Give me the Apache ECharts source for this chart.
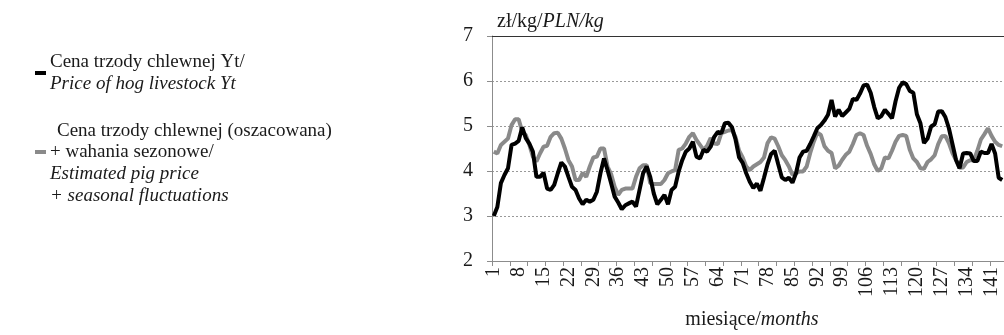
<!DOCTYPE html>
<html>
<head>
<meta charset="utf-8">
<script src="https://cdn.jsdelivr.net/npm/echarts@6/dist/echarts.min.js"></script>
<style>
html,body{margin:0;padding:0;background:#fff;}
#c{width:1004px;height:335px;}
</style>
</head>
<body>
<div id="c"></div>
<script>
// month categories 1..144
var months = [];
for (var m = 1; m <= 144; m++) months.push(String(m));

// Price of hog livestock Yt (zł/kg)
var priceYt = [
3.00,3.20,3.73,3.91,4.06,4.58,4.61,4.67,4.97,4.73,
4.61,4.43,3.87,3.87,3.96,3.61,3.58,3.69,3.95,4.19,
4.10,3.87,3.65,3.58,3.39,3.26,3.36,3.32,3.36,3.54,
3.95,4.28,4.02,3.73,3.43,3.30,3.15,3.24,3.28,3.32,
3.21,3.58,3.95,4.10,3.87,3.50,3.26,3.36,3.47,3.26,
3.58,3.65,3.99,4.24,4.43,4.50,4.65,4.32,4.28,4.47,
4.43,4.54,4.76,4.87,4.84,5.06,5.07,4.97,4.70,4.30,
4.18,3.95,3.76,3.62,3.72,3.56,3.85,4.15,4.38,4.45,
4.15,3.86,3.80,3.85,3.74,3.95,4.30,4.43,4.45,4.60,
4.77,4.95,5.02,5.12,5.25,5.58,5.21,5.36,5.22,5.30,
5.38,5.60,5.58,5.72,5.90,5.92,5.74,5.42,5.17,5.22,
5.36,5.27,5.17,5.55,5.85,5.97,5.93,5.78,5.74,5.26,
5.06,4.62,4.72,4.99,5.04,5.32,5.33,5.20,4.95,4.60,
4.25,4.06,4.39,4.40,4.39,4.22,4.22,4.43,4.40,4.40,
4.60,4.39,3.85,3.80
];

// Estimated pig price + seasonal fluctuations (zł/kg)
var estimated = [
4.43,4.39,4.58,4.65,4.72,5.02,5.15,5.15,4.87,4.80,
4.58,4.32,4.21,4.39,4.54,4.56,4.76,4.84,4.85,4.72,
4.50,4.24,4.10,3.80,3.80,3.96,3.87,4.10,4.30,4.32,
4.50,4.50,4.10,3.93,3.65,3.47,3.58,3.61,3.61,3.61,
3.87,4.06,4.13,4.13,3.73,3.71,3.71,3.71,3.80,3.95,
3.99,4.02,4.47,4.50,4.61,4.76,4.84,4.69,4.58,4.47,
4.56,4.73,4.61,4.60,4.84,4.87,4.90,4.91,4.75,4.45,
4.30,4.10,4.02,4.10,4.15,4.20,4.30,4.62,4.75,4.72,
4.55,4.35,4.24,4.10,3.92,3.95,3.99,3.99,4.10,4.40,
4.65,4.85,4.80,4.55,4.45,4.40,4.06,4.12,4.25,4.36,
4.43,4.60,4.80,4.84,4.80,4.56,4.38,4.15,4.00,4.06,
4.30,4.28,4.45,4.65,4.78,4.80,4.78,4.47,4.28,4.20,
4.06,4.05,4.20,4.26,4.35,4.60,4.77,4.78,4.62,4.40,
4.24,4.07,4.08,4.20,4.24,4.24,4.45,4.70,4.82,4.95,
4.78,4.65,4.58,4.55
];

var yTicks = [2, 3, 4, 5, 6, 7];

var FONT = '"Liberation Serif", "Times New Roman", serif';
var AX = 20;   // axis text size
var LG = 19;   // legend text size
var TXT = '#1a1a1a';
var chart = echarts.init(document.getElementById('c'), null, {renderer: 'canvas'});

chart.setOption({
  animation: false,
  backgroundColor: '#fff',
  grid: {left: 492, top: 36, width: 517, height: 225, containLabel: false},
  xAxis: [{
    type: 'category',
    data: months,
    boundaryGap: true,
    axisLine: {show: true, lineStyle: {color: '#8c8c8c', width: 1}},
    axisTick: {show: true, interval: 4, length: 5, lineStyle: {color: '#8c8c8c'}},
    axisLabel: {interval: 6, rotate: 90, margin: 6, fontFamily: FONT, fontSize: AX, color: TXT},
    splitLine: {show: false}
  }, {
    type: 'category',
    data: months,
    position: 'top',
    axisLine: {show: true, lineStyle: {color: '#333', width: 1}},
    axisTick: {show: false},
    axisLabel: {show: false},
    splitLine: {show: false}
  }],
  yAxis: {
    type: 'value',
    min: yTicks[0],
    max: yTicks[yTicks.length - 1],
    interval: 1,
    axisLine: {show: true, lineStyle: {color: '#8c8c8c', width: 1}},
    axisTick: {show: true, length: 5, lineStyle: {color: '#8c8c8c'}},
    axisLabel: {margin: 19, fontFamily: FONT, fontSize: AX, color: TXT},
    splitLine: {show: true, lineStyle: {color: '#999', type: [2, 2], width: 1}}
  },
  series: [{
    name: 'Cena trzody chlewnej (oszacowana) + wahania sezonowe',
    type: 'line',
    data: estimated,
    symbol: 'none',
    lineStyle: {color: '#8a8a8a', width: 4},
    z: 2
  }, {
    name: 'Cena trzody chlewnej Yt',
    type: 'line',
    data: priceYt,
    symbol: 'none',
    lineStyle: {color: '#000', width: 4},
    z: 3
  }],
  graphic: [
    {type: 'text', x: 497, y: 22, style: {
      text: '{a|zł/kg/}{b|PLN/kg}', verticalAlign: 'middle',
      rich: {a: {fontFamily: FONT, fontSize: AX, fill: TXT},
             b: {fontFamily: FONT, fontSize: AX, fontStyle: 'italic', fill: TXT}}
    }},
    {type: 'text', x: 752, y: 320, style: {
      text: '{a|miesiące/}{b|months}', align: 'center', verticalAlign: 'middle',
      rich: {a: {fontFamily: FONT, fontSize: AX, fill: TXT},
             b: {fontFamily: FONT, fontSize: AX, fontStyle: 'italic', fill: TXT}}
    }},
    {type: 'line', shape: {x1: 35, y1: 73, x2: 46, y2: 73}, style: {stroke: '#000', lineWidth: 4}},
    {type: 'text', x: 50, y: 62, style: {text: 'Cena trzody chlewnej Yt/', fontFamily: FONT, fontSize: LG, fill: TXT, verticalAlign: 'middle'}},
    {type: 'text', x: 50, y: 84, style: {text: 'Price of hog livestock Yt', fontFamily: FONT, fontSize: LG, fontStyle: 'italic', fill: TXT, verticalAlign: 'middle'}},
    {type: 'line', shape: {x1: 35, y1: 152, x2: 46, y2: 152}, style: {stroke: '#8a8a8a', lineWidth: 4}},
    {type: 'text', x: 57, y: 131, style: {text: 'Cena trzody chlewnej (oszacowana)', fontFamily: FONT, fontSize: LG, fill: TXT, verticalAlign: 'middle'}},
    {type: 'text', x: 50, y: 152, style: {text: '+ wahania sezonowe/', fontFamily: FONT, fontSize: LG, fill: TXT, verticalAlign: 'middle'}},
    {type: 'text', x: 50, y: 174, style: {text: 'Estimated pig price', fontFamily: FONT, fontSize: LG, fontStyle: 'italic', fill: TXT, verticalAlign: 'middle'}},
    {type: 'text', x: 50, y: 196, style: {text: '+ seasonal fluctuations', fontFamily: FONT, fontSize: LG, fontStyle: 'italic', fill: TXT, verticalAlign: 'middle'}}
  ]
});
</script>
</body>
</html>
